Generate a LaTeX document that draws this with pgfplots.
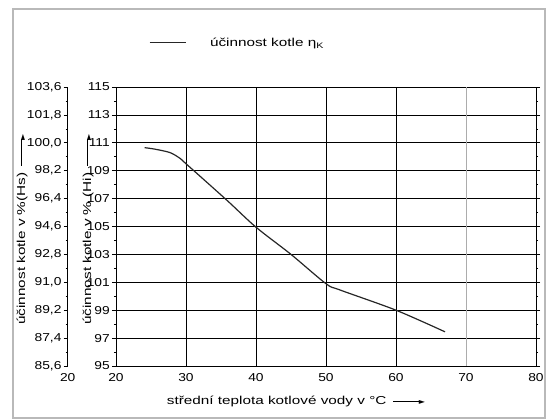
\documentclass[border=0pt]{standalone}
\usepackage{fontspec}
\setmainfont{Liberation Sans}[FakeStretch=1.2]
\newfontfamily\lab{Liberation Sans}[FakeStretch=1.33]
\newfontfamily\dv{DejaVu Sans}
\usepackage{pgfplots}
\pgfplotsset{compat=1.18}

% long arrow used after the axis titles
\newcommand{\arr}{\rule[3pt]{27pt}{0.8pt}\kern-1.5pt{\dv\fontsize{8}{8}\selectfont ►}}
\newcommand{\fs}{\fontsize{11.5}{13}\selectfont}
\newcommand{\fl}{\lab\fontsize{11.5}{13}\selectfont}

\pgfplotsset{
  every axis/.append style={
    scale only axis, width=420pt, height=279pt,
    xmin=20, xmax=80,
    tick align=outside, major tick length=4pt, minor tick length=2pt,
    minor y tick num=1,
    x tick style={draw=none},
    tick label style={font=\fs},
    label style={font=\fl},
    /pgf/number format/assume math mode=true,
    axis line style={black, line width=0.6pt},
    y tick style={black, line width=0.6pt},
  },
}

\begin{document}
\begin{tikzpicture}[font=\fs]
\useasboundingbox (-116pt,-53pt) rectangle (433pt,366pt);
\draw[gray!55, line width=1.5pt] (-103pt,-52pt) rectangle (429pt,357pt);

% second scale (Hs)
\begin{axis}[
  at={(-48.3pt,0pt)},
  ymin=85.6, ymax=103.6,
  axis y line*=left, axis x line*=bottom,
  x axis line style={draw=none},
  xtick={20},
  ytick={85.6,87.4,89.2,91.0,92.8,94.6,96.4,98.2,100.0,101.8,103.6},
  yticklabel style={inner sep=2pt, /pgf/number format/.cd, fixed, fixed zerofill, precision=1, use comma},
  ylabel={účinnost kotle v \%(Hs)\hspace{7pt}\arr},
  ylabel style={at={(axis description cs:-0.1088,0.49)}, anchor=center},
]
\addplot[draw=none] coordinates {(20,90) (80,90)};
\end{axis}

% main axis (Hi)
\begin{axis}[
  ymin=95, ymax=115,
  xtick={20,30,40,50,60,80},
  extra x ticks={70},
  extra x tick style={grid style={gray!65, line width=0.6pt}},
  ytick={95,97,...,115},
  yticklabel style={inner sep=2pt},
  grid=major,
  grid style={black, line width=0.6pt},
  xlabel={střední teplota kotlové vody v °C\hspace{7pt}\arr},
  xlabel style={at={(axis description cs:0.4286,0)}, yshift=-35.7pt, anchor=center},
  ylabel={účinnost kotle v \% (Hi)\hspace{7pt}\arr},
  ylabel style={at={(axis description cs:-0.0667,0.49)}, anchor=center},
  legend style={at={(0.0786,1.1588)}, anchor=west, draw=none, fill=none,
    inner sep=0pt, nodes={inner sep=0pt}, column sep=24pt,
    font=\fl},
  legend image code/.code={\draw[black!85, line width=0.8pt] (0pt,0pt)--(36pt,0pt);},
]
\addplot[smooth, tension=0.5, line width=1.2pt, color=black!85] coordinates {
  (24.1,110.65) (25.5,110.55) (27.7,110.3) (29.1,109.9) (30,109.5)
  (35.8,106.9) (40,104.95) (45,103.0) (50,100.9) (52,100.45)
  (60,99.0) (67,97.45)
};
\addlegendentry{účinnost kotle η\raisebox{-0.35ex}{\fontsize{8}{9}\selectfont K}}
\end{axis}
\end{tikzpicture}
\end{document}
